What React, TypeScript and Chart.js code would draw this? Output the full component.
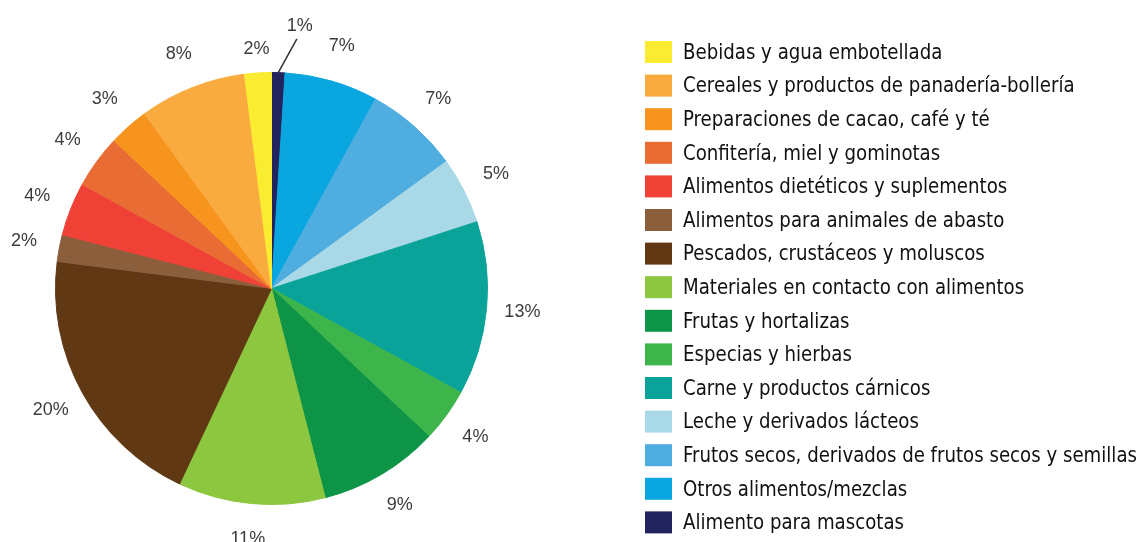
import React, { useEffect, useRef } from "react";
import { Chart, registerables } from "chart.js";

Chart.register(...registerables);

// Legend order (top to bottom as shown in the reference)
const categories = [
  "Bebidas y agua embotellada",
  "Cereales y productos de panadería-bollería",
  "Preparaciones de cacao, café y té",
  "Confitería, miel y gominotas",
  "Alimentos dietéticos y suplementos",
  "Alimentos para animales de abasto",
  "Pescados, crustáceos y moluscos",
  "Materiales en contacto con alimentos",
  "Frutas y hortalizas",
  "Especias y hierbas",
  "Carne y productos cárnicos",
  "Leche y derivados lácteos",
  "Frutos secos, derivados de frutos secos y semillas",
  "Otros alimentos/mezclas",
  "Alimento para mascotas",
];

const percentages = [2, 8, 3, 4, 4, 2, 20, 11, 9, 4, 13, 5, 7, 7, 1];

const colors = [
  "#f9ec31",
  "#f9ab40",
  "#f7941d",
  "#e96c35",
  "#ef4136",
  "#8b5e3c",
  "#603813",
  "#8dc63f",
  "#0d9447",
  "#3db54a",
  "#0aa39a",
  "#a9d9e6",
  "#4fade0",
  "#0aa6df",
  "#23245e",
];

// Pie runs clockwise from 12 o'clock in the reverse of the legend order
const pieLabels = [...categories].reverse();
const pieValues = [...percentages].reverse();
const pieColors = [...colors].reverse();

const pctLabelPlugin = {
  id: "pctLabels",
  afterDatasetsDraw(chart: any) {
    const ctx = chart.ctx;
    const meta = chart.getDatasetMeta(0);
    const data = chart.data.datasets[0].data as number[];
    ctx.save();
    ctx.font = '18px "Liberation Sans", Arial, sans-serif';
    ctx.fillStyle = "#3c3c3c";
    ctx.strokeStyle = "#333333";
    ctx.textAlign = "center";
    ctx.textBaseline = "middle";
    meta.data.forEach((arc: any, i: number) => {
      const p = arc.getProps(["x", "y", "startAngle", "endAngle", "outerRadius"], true);
      const mid = (p.startAngle + p.endAngle) / 2;
      const v = data[i];
      const text = v + "%";
      if (v < 1.5) {
        const a2 = mid + (4 * Math.PI) / 180;
        const x1 = p.x + p.outerRadius * Math.cos(mid);
        const y1 = p.y + p.outerRadius * Math.sin(mid);
        const x2 = p.x + (p.outerRadius + 35) * Math.cos(a2);
        const y2 = p.y + (p.outerRadius + 35) * Math.sin(a2);
        ctx.lineWidth = 1.5;
        ctx.beginPath();
        ctx.moveTo(x1, y1);
        ctx.lineTo(x2, y2);
        ctx.stroke();
        ctx.fillText(text, x2 + 3, y2 - 13);
      } else {
        const d = p.outerRadius + (v <= 2 && Math.abs(Math.sin(mid)) > 0.95 ? 24 : 36);
        ctx.fillText(text, p.x + d * Math.cos(mid), p.y + d * Math.sin(mid));
      }
    });
    ctx.restore();
  },
};

const sideLegendPlugin = {
  id: "sideLegend",
  afterDraw(chart: any, _args: any, opts: any) {
    const ctx = chart.ctx;
    ctx.save();
    ctx.font = opts.font;
    ctx.textAlign = "left";
    ctx.textBaseline = "middle";
    let longest = 0;
    categories.forEach((c) => {
      longest = Math.max(longest, ctx.measureText(c).width);
    });
    const sx = Math.min(1, opts.maxTextWidth / longest);
    const n = categories.length;
    for (let i = 0; i < n; i++) {
      const y = opts.top + i * opts.step;
      ctx.fillStyle = colors[i];
      ctx.fillRect(opts.x, y - opts.boxH / 2, opts.boxW, opts.boxH);
      ctx.fillStyle = "#111111";
      ctx.save();
      ctx.translate(opts.x + opts.boxW + opts.gap, y + 1);
      ctx.scale(sx, 1);
      ctx.fillText(categories[i], 0, 0);
      ctx.restore();
    }
    ctx.restore();
  },
};

export default function App() {
  const canvasRef = useRef<HTMLCanvasElement | null>(null);

  useEffect(() => {
    if (!canvasRef.current) return;
    const chart = new Chart(canvasRef.current, {
      type: "pie",
      data: {
        labels: pieLabels,
        datasets: [
          {
            data: pieValues,
            backgroundColor: pieColors,
            borderColor: pieColors,
            borderWidth: 1,
          },
        ],
      },
      options: {
        animation: false,
        responsive: true,
        maintainAspectRatio: false,
        layout: { padding: { left: 55, right: 655, top: 72, bottom: 37 } },
        plugins: {
          legend: { display: false },
          tooltip: { enabled: false },
          sideLegend: {
            x: 645,
            top: 52,
            step: 33.6,
            boxW: 27,
            boxH: 22,
            gap: 11,
            maxTextWidth: 454,
            font: '22px "Liberation Sans Narrow", "DejaVu Sans Condensed", sans-serif',
          },
        } as any,
      },
      plugins: [pctLabelPlugin, sideLegendPlugin],
    });
    return () => chart.destroy();
  }, []);

  return (
    <div
      style={{
        position: "fixed",
        left: 0,
        top: 0,
        width: 1143,
        height: 542,
        background: "#ffffff",
      }}
    >
      <canvas ref={canvasRef} />
    </div>
  );
}
